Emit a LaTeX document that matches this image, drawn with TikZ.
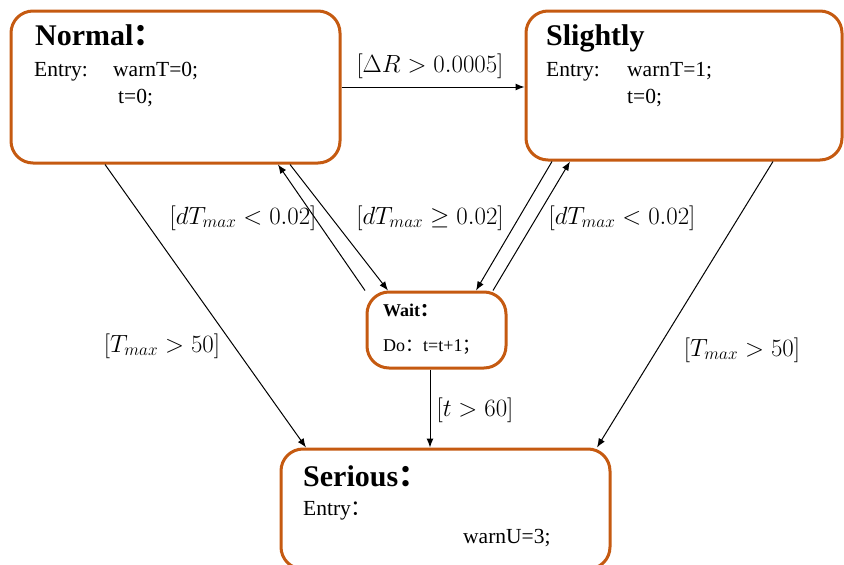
\documentclass[tikz,border=0pt]{standalone}
\usepackage{fontspec}
\setmainfont{Liberation Serif}[BoldFont={Liberation Serif Bold},ItalicFont={Liberation Serif Italic}]
\newfontfamily\cjk{Noto Sans CJK SC}
\usetikzlibrary{arrows.meta,calc}
\definecolor{boxorange}{HTML}{C55A11}
\begin{document}
\begin{tikzpicture}[x=1pt,y=-1pt,
  state/.style={draw=boxorange, line width=3pt, rounded corners=22pt, fill=white, inner sep=0pt},
  title/.style={anchor=base west, inner sep=0pt, font=\fontsize{30}{32}\selectfont\bfseries},
  body/.style={anchor=base west, inner sep=0pt, font=\fontsize{21.5}{23}\selectfont},
  smalltitle/.style={anchor=base west, inner sep=0pt, font=\fontsize{18}{20}\selectfont\bfseries},
  smallbody/.style={anchor=base west, inner sep=0pt, font=\fontsize{18}{20}\selectfont},
  guard/.style={inner sep=0pt, font=\fontsize{24}{26}\selectfont},
  trans/.style={line width=1pt, -{Latex[length=9pt,width=7pt]}}]
\useasboundingbox (0,0) rectangle (844,565);
% boxes
\node[state, minimum width=329pt, minimum height=152pt] (normal) at (175.5,87) {};
\node[state, minimum width=316pt, minimum height=149pt] (slightly) at (684,85.5) {};
\node[state, minimum width=139pt, minimum height=76pt] (wait) at (436.5,330) {};
\node[state, minimum width=329pt, minimum height=120pt] (serious) at (445.5,509) {};
% texts
\node[title] (nt) at (35,45) {Normal{\cjk ：}};
\node[body] (ne) at (34,76) {Entry:};
\node[body] (nw) at (113,76) {warnT=0;};
\node[body] (nt0) at (118,103) {t=0;};
\node[title] (st) at (546,45) {Slightly};
\node[body] (se) at (546,76) {Entry:};
\node[body] (sw) at (627,76) {warnT=1;};
\node[body] (st0) at (627,103) {t=0;};
\node[smalltitle] (wt) at (383,316) {Wait{\cjk ：}};
\node[smallbody] (wd) at (383,351) {Do{\cjk ：}t=t+1{\cjk ；}};
\node[title] (sert) at (303,486) {Serious{\cjk ：}};
\node[body] (sere) at (303,515) {Entry{\cjk ：}};
\node[body] (seru) at (463,543) {warnU=3;};
% transitions
\draw[trans] (normal.east |- 0,87) coordinate (a1) -- (slightly.west |- a1);
\draw[trans] ([xshift=114.5pt]normal.south) -- ([xshift=-48.5pt]wait.north);
\draw[trans] ([xshift=-71.5pt]wait.north) -- ([xshift=102.5pt]normal.south);
\draw[trans] ([xshift=-132pt]slightly.south) -- ([xshift=39.5pt]wait.north);
\draw[trans] ([xshift=56.5pt]wait.north) -- ([xshift=-114pt]slightly.south);
\draw[trans] ([xshift=-70.5pt]normal.south) -- ([xshift=-139.5pt]serious.north);
\draw[trans] ([xshift=89pt]slightly.south) -- ([xshift=151.5pt]serious.north);
\draw[trans] ([xshift=-6.5pt]wait.south) -- ([xshift=-6.5pt]wait.south |- serious.north);
% guards
\node[guard] (g1) at (430,66) {$[\Delta R > 0.0005]$};
\node[guard] (g2) at (243,218) {$[dT_{max} < 0.02]$};
\node[guard] (g3) at (430,218) {$[dT_{max} \geq 0.02]$};
\node[guard] (g4) at (622,218) {$[dT_{max} < 0.02]$};
\node[guard] (g5) at (162,346) {$[T_{max} > 50]$};
\node[guard] (g6) at (742,350) {$[T_{max} > 50]$};
\node[guard] (g7) at (475,410) {$[t > 60]$};
\end{tikzpicture}
\end{document}
